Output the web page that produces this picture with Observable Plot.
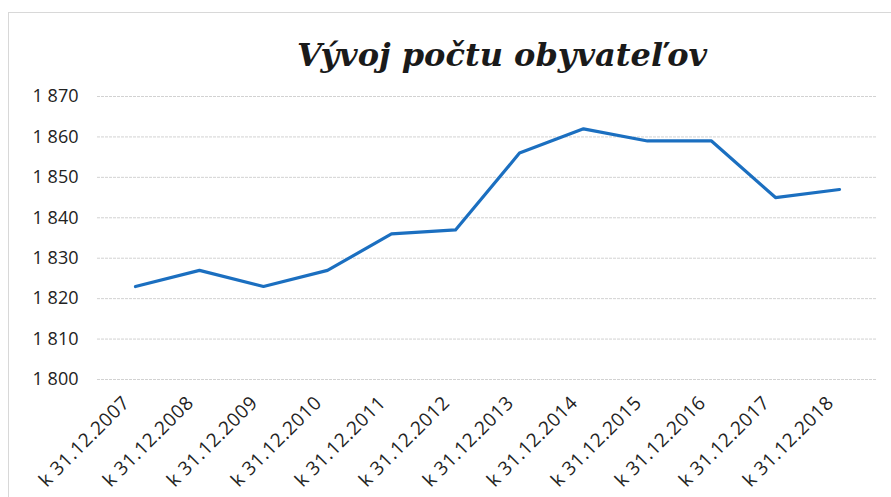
<!DOCTYPE html>
<html>
<head>
<meta charset="utf-8">
<script src="https://cdn.jsdelivr.net/npm/d3@7"></script>
<script src="https://cdn.jsdelivr.net/npm/@observablehq/plot@0.6"></script>
<style>
  html, body { margin: 0; padding: 0; background: #ffffff; }
  #wrap { position: relative; width: 891px; height: 497px; overflow: hidden; background: #fff; }
  #frame { position: absolute; left: 8px; top: 12px; width: 900px; height: 500px; border-left: 1px solid #d8d8d8; border-top: 1px solid #d8d8d8; box-sizing: border-box; }
  #title { position: absolute; left: 0; top: 35px; width: 1004px; text-align: center;
    font-family: "DejaVu Serif", serif; font-weight: bold; font-style: italic; font-size: 32px; color: #1a1a1a; line-height: 40px; }
  #chart { position: absolute; left: 0; top: 80px; }
  #chart g[aria-label="x-axis tick label"] text { letter-spacing: 0.6px; }
</style>
</head>
<body>
<div id="wrap">
  <div id="frame"></div>
  <div id="title">Vývoj počtu obyvateľov</div>
  <div id="chart"></div>
</div>
<script>
const categories = ["k 31.12.2007","k 31.12.2008","k 31.12.2009","k 31.12.2010","k 31.12.2011","k 31.12.2012","k 31.12.2013","k 31.12.2014","k 31.12.2015","k 31.12.2016","k 31.12.2017","k 31.12.2018"];
const population = [1823, 1827, 1823, 1827, 1836, 1837, 1856, 1862, 1859, 1859, 1845, 1847];
const yTicks = [1800, 1810, 1820, 1830, 1840, 1850, 1860, 1870];

const data = categories.map((c, i) => ({cat: c, value: population[i]}));
const fmt = d3.formatLocale({decimal: ",", thousands: "\u2009\u200a", grouping: [3], currency: ["", ""]}).format(",");

const chart = Plot.plot({
  width: 891,
  height: 417,
  marginTop: 16,
  marginBottom: 118,
  marginLeft: 97,
  marginRight: 15,
  style: {fontFamily: "'Open Sans', sans-serif", fontSize: "16px", color: "#222", background: "transparent"},
  x: {type: "point", domain: categories, padding: 0.5, label: null},
  y: {domain: [1800, 1870], ticks: yTicks, label: null},
  marks: [
    Plot.ruleY(yTicks, {stroke: "#d2d2d2", strokeWidth: 1, strokeDasharray: "3,1"}),
    Plot.axisY({ticks: yTicks, tickSize: 0, tickPadding: 19, tickFormat: d => fmt(d), fontSize: 18, label: null}),
    Plot.axisX({tickSize: 0, tickRotate: -45, tickPadding: 10, dx: -9, dy: 10, fontSize: 19, label: null}),
    Plot.line(data, {x: "cat", y: "value", stroke: "#1b6fc0", strokeWidth: 3.2, strokeLinejoin: "round"})
  ]
});
document.getElementById("chart").appendChild(chart);
</script>
</body>
</html>
